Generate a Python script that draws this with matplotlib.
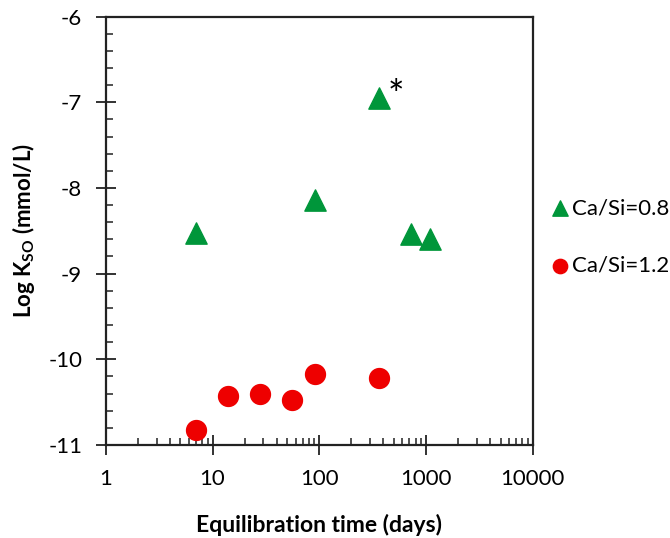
import matplotlib
matplotlib.use("Agg")
import matplotlib.pyplot as plt
from matplotlib.ticker import MultipleLocator, LogLocator, NullFormatter, FuncFormatter

plt.rcParams['font.family'] = ['Lato', 'DejaVu Sans']

# Ca/Si = 0.8
days_08 = [7, 91, 365, 730, 1095]
logk_08 = [-8.52, -8.14, -6.95, -8.54, -8.59]

# Ca/Si = 1.2
days_12 = [7, 14, 28, 56, 91, 365]
logk_12 = [-10.83, -10.43, -10.41, -10.48, -10.17, -10.22]

fig = plt.figure(figsize=(6.7, 5.38), dpi=100)
ax = fig.add_axes([0.158, 0.173, 0.637, 0.796])

ax.scatter(days_08, logk_08, marker='^', s=235, color='#00963a', label='Ca/Si=0.8',
           zorder=3, clip_on=False)
ax.scatter(days_12, logk_12, marker='o', s=205, color='#ee0000', label='Ca/Si=1.2',
           zorder=3, clip_on=False)

# asterisk on the 365-day point
ax.annotate('*', (days_08[2], logk_08[2]), xytext=(12, -7.3), textcoords='offset points',
            fontsize=28, ha='center', va='baseline')

ax.set_xscale('log')
ax.set_xlim(1, 10000)
ax.set_ylim(-11, -6)
ax.xaxis.set_major_locator(LogLocator(base=10, numticks=10))
ax.xaxis.set_minor_locator(LogLocator(base=10, subs=range(2, 10), numticks=10))
ax.xaxis.set_minor_formatter(NullFormatter())
ax.xaxis.set_major_formatter(FuncFormatter(lambda v, p: f'{v:g}'))
ax.yaxis.set_major_locator(MultipleLocator(1))
ax.yaxis.set_minor_locator(MultipleLocator(0.2))
ax.yaxis.set_major_formatter(FuncFormatter(lambda v, p: f'{int(round(v))}'))

ax.tick_params(which='major', direction='inout', length=14, width=1.3, labelsize=16,
               color='#222222')
ax.tick_params(axis='x', which='major', pad=10)
ax.tick_params(axis='y', which='major', pad=10)
ax.tick_params(which='minor', direction='in', length=5, width=1.1, color='#222222')
for s in ax.spines.values():
    s.set_linewidth(1.6)
    s.set_color('#222222')

ax.set_xlabel('Equilibration time (days)', fontsize=16.5, fontweight='bold', va='center')
ax.xaxis.set_label_coords(0.5, -0.187)
ax.set_ylabel('Log K$_\\mathregular{SO}$ (mmol/L)', fontsize=16, fontweight='bold', va='center')
ax.yaxis.set_label_coords(-0.192, 0.5)

ax.legend(loc='center left', bbox_to_anchor=(540 / 670, 1 - 237 / 538),
          bbox_transform=fig.transFigure, frameon=False, fontsize=16,
          handlelength=1.0, handletextpad=0.05, labelspacing=1.7,
          markerscale=0.72, borderaxespad=0)

fig.savefig('out.png', dpi=100)
